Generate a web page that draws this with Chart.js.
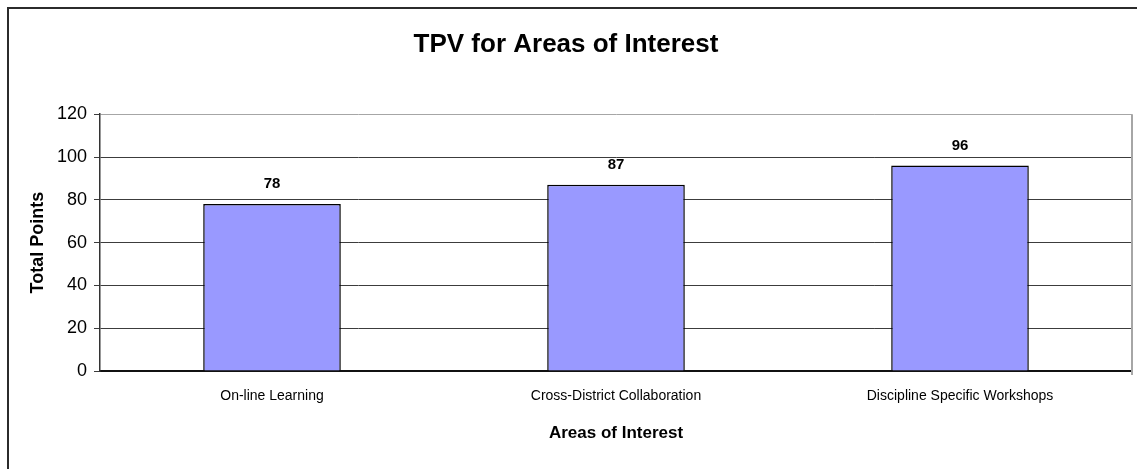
<!DOCTYPE html>
<html>
<head>
<meta charset="utf-8">
<script src="https://cdn.jsdelivr.net/npm/chart.js@4"></script>
<style>
  html, body { margin: 0; padding: 0; background: #fff; overflow: hidden; }
  #frame {
    position: absolute; left: 7px; top: 7px; width: 1300px; height: 700px;
    border-left: 2px solid #2b2b2b; border-top: 2px solid #2b2b2b;
  }
  #wrap { position: absolute; left: 0; top: 0; width: 1137px; height: 469px; }
</style>
</head>
<body>
<div id="frame"></div>
<div id="wrap"><canvas id="tpvChart"></canvas></div>
<script>
// TPV chart — category bars with value labels on top

const categories = ["On-line Learning", "Cross-District Collaboration", "Discipline Specific Workshops"];
const totalPoints = [78, 87, 96];
const yTicks = [0, 20, 40, 60, 80, 100, 120];

const FONT = "'Liberation Sans', Arial, sans-serif";

// value labels above each bar
const barLabels = {
  id: "barLabels",
  afterDatasetsDraw(chart) {
    const { ctx } = chart;
    const meta = chart.getDatasetMeta(0);
    ctx.save();
    ctx.font = "bold 15px " + FONT;
    ctx.fillStyle = "#000";
    ctx.textAlign = "center";
    ctx.textBaseline = "alphabetic";
    meta.data.forEach((bar, i) => {
      ctx.fillText(String(totalPoints[i]), bar.x, bar.y - 16);
    });
    ctx.restore();
  }
};

// grey right edge of the plot area
const plotEdge = {
  id: "plotEdge",
  beforeDatasetsDraw(chart) {
    const { ctx, chartArea: a } = chart;
    ctx.save();
    ctx.strokeStyle = "#a6a6a6";
    ctx.lineWidth = 2;
    ctx.beginPath();
    ctx.moveTo(a.right, a.top);
    ctx.lineTo(a.right, a.bottom + 4);
    ctx.stroke();
    ctx.restore();
  }
};

new Chart(document.getElementById("tpvChart"), {
  type: "bar",
  data: {
    labels: categories,
    datasets: [{
      label: "Total Points",
      data: totalPoints,
      backgroundColor: "#9999FF",
      borderColor: "#000",
      borderWidth: 1.5,
      barPercentage: 0.4,
      categoryPercentage: 1
    }]
  },
  options: {
    responsive: true,
    maintainAspectRatio: false,
    animation: false,
    layout: { padding: { left: 0, right: 5, top: 0, bottom: 0 } },
    plugins: {
      legend: { display: false },
      tooltip: { enabled: false },
      title: {
        display: true,
        text: "TPV for Areas of Interest",
        color: "#000",
        font: { family: FONT, size: 26, weight: "bold" },
        padding: { top: 29, bottom: 54 }
      }
    },
    scales: {
      x: {
        grid: { display: false, drawTicks: false },
        border: { display: true, color: "#111", width: 2 },
        ticks: { color: "#000", padding: 17, font: { family: FONT, size: 14 }, maxRotation: 0 },
        title: {
          display: true,
          text: "Areas of Interest",
          color: "#000",
          font: { family: FONT, size: 17, weight: "bold" },
          padding: { top: 0, bottom: 25 }
        },
        afterFit(scale) { scale.height = 98; }
      },
      y: {
        min: 0,
        max: 120,
        afterBuildTicks(scale) { scale.ticks = yTicks.map(v => ({ value: v })); },
        grid: {
          color: (c) => (c.tick && c.tick.value === 120 ? "#a6a6a6" : "#3c3c3c"),
          lineWidth: 1,
          tickLength: 6,
          tickColor: "#3c3c3c"
        },
        border: { display: true, color: "#333", width: 1.5 },
        ticks: { color: "#000", padding: 7, font: { family: FONT, size: 18 } },
        title: {
          display: true,
          text: "Total Points",
          color: "#000",
          font: { family: FONT, size: 18, weight: "bold" },
          padding: { top: 27, bottom: 0 }
        },
        afterFit(scale) { scale.width = 100; }
      }
    }
  },
  plugins: [barLabels, plotEdge]
});
</script>
</body>
</html>
